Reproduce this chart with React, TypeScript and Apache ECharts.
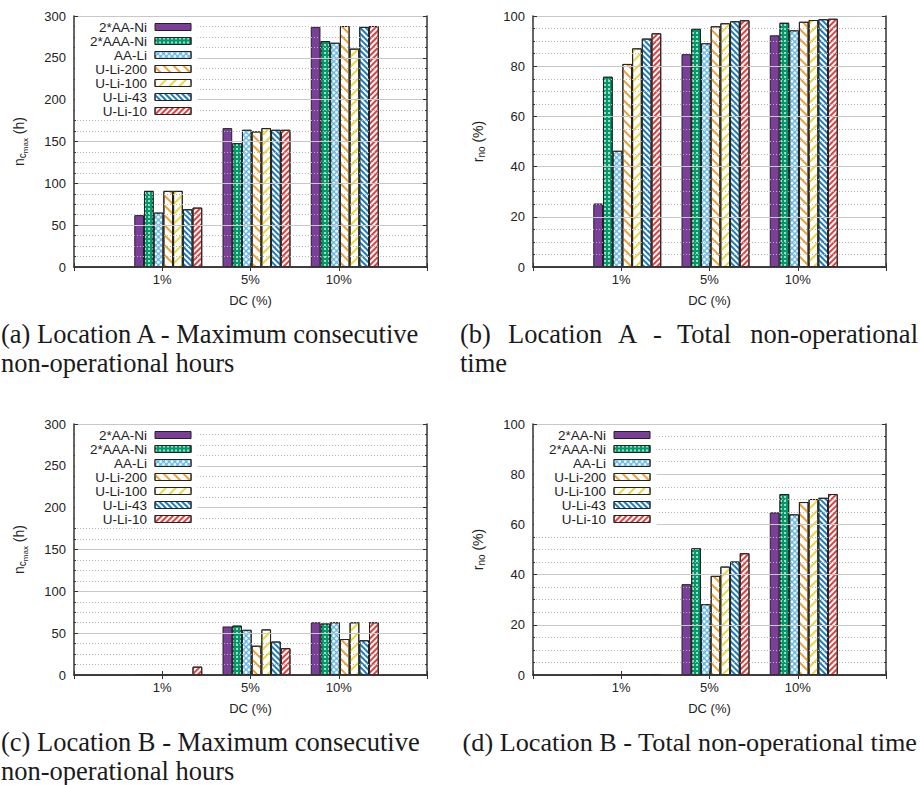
import React, { useEffect, useRef } from 'react';
import * as echarts from 'echarts';

// ---------- data ----------
const categories = ['1%', '5%', '10%'];
const seriesNames = ['2*AA-Ni', '2*AAA-Ni', 'AA-Li', 'U-Li-200', 'U-Li-100', 'U-Li-43', 'U-Li-10'];

// (a) Location A - maximum consecutive non-operational hours (h)
const a_AANi = [62, 166, 287];
const a_AAANi = [91, 148, 270];
const a_AALi = [65, 164, 268];
const a_ULi200 = [91, 162, 288];
const a_ULi100 = [91, 166, 261];
const a_ULi43 = [69, 164, 287];
const a_ULi10 = [71, 164, 288];

// (b) Location A - total non-operational time (%)
const b_AANi = [25.3, 84.8, 92.3];
const b_AAANi = [75.8, 94.9, 97.3];
const b_AALi = [46.3, 89.1, 94.3];
const b_ULi200 = [80.9, 95.9, 97.7];
const b_ULi100 = [87.1, 97.1, 98.4];
const b_ULi43 = [91.0, 97.9, 98.7];
const b_ULi10 = [93.1, 98.3, 98.9];

// (c) Location B - maximum consecutive non-operational hours (h)
const c_AANi = [0, 58, 63];
const c_AAANi = [0, 59, 61.5];
const c_AALi = [0, 54, 63];
const c_ULi200 = [0, 35, 43];
const c_ULi100 = [0, 54.5, 63];
const c_ULi43 = [0, 40, 41.5];
const c_ULi10 = [10, 32, 63];

// (d) Location B - total non-operational time (%)
const d_AANi = [0, 36.2, 64.8];
const d_AAANi = [0, 50.5, 72.1];
const d_AALi = [0, 28.2, 64.0];
const d_ULi200 = [0, 39.5, 68.9];
const d_ULi100 = [0, 43.2, 70.1];
const d_ULi43 = [0, 45.2, 70.6];
const d_ULi10 = [0.4, 48.5, 72.1];

const hoursA = [a_AANi, a_AAANi, a_AALi, a_ULi200, a_ULi100, a_ULi43, a_ULi10];
const ratioA = [b_AANi, b_AAANi, b_AALi, b_ULi200, b_ULi100, b_ULi43, b_ULi10];
const hoursB = [c_AANi, c_AAANi, c_AALi, c_ULi200, c_ULi100, c_ULi43, c_ULi10];
const ratioB = [d_AANi, d_AAANi, d_AALi, d_ULi200, d_ULi100, d_ULi43, d_ULi10];

// ---------- styles ----------
const FONT = '"Liberation Sans", Arial, sans-serif';
const SERIF = '"Liberation Serif", "Times New Roman", serif';
const TEXT = '#222';
const AXIS = '#333';

const seriesStyles: any[] = [
  { color: '#7b3f99' },
  {
    color: '#00996a',
    decal: { symbol: 'circle', symbolSize: 0.8, color: '#ffffff', dashArrayX: [1.6, 1.2], dashArrayY: [1.6, 1.2] },
  },
  {
    color: '#5cb6e8',
    decal: { symbol: 'circle', symbolSize: 1, color: '#ffffff', dashArrayX: [2.6, 1], dashArrayY: [2.6, 1], rotation: Math.PI / 4 },
  },
  {
    color: '#ffffff',
    decal: { symbol: 'rect', symbolSize: 1, color: '#f0a030', dashArrayX: [1, 0], dashArrayY: [1.2, 4.2], rotation: Math.PI / 4 },
  },
  {
    color: '#ffffff',
    decal: { symbol: 'rect', symbolSize: 1, color: '#ecd83a', dashArrayX: [1, 0], dashArrayY: [1.2, 4.2], rotation: -Math.PI / 4 },
  },
  {
    color: '#ffffff',
    decal: { symbol: 'rect', symbolSize: 1, color: '#1a7cc0', dashArrayX: [1, 0], dashArrayY: [1.5, 1.2], rotation: Math.PI / 4 },
  },
  {
    color: '#ffffff',
    decal: { symbol: 'rect', symbolSize: 1, color: '#e83c3c', dashArrayX: [1, 0], dashArrayY: [1.5, 1.2], rotation: -Math.PI / 4 },
  },
];

const nRich = {
  n: { fontSize: 14, lineHeight: 14, verticalAlign: 'top', color: TEXT, fontFamily: FONT },
  c: { fontSize: 10, lineHeight: 10, verticalAlign: 'top', padding: [5, 0, 0, 0], color: TEXT, fontFamily: FONT },
  m: { fontSize: 8, lineHeight: 8, verticalAlign: 'top', padding: [9, 0, 0, 0], color: TEXT, fontFamily: FONT },
};
const hoursName = '{n|n}{c|c}{m|max}{n| (h)}';
const ratioName = '{n|r}{c|no}{n| (%)}';

const W = 353;
const H = 251;
const SHIFT = 6;

const panels = [
  { left: 74, top: 16, max: 300, interval: 50, yName: hoursName, data: hoursA, legend: true },
  { left: 533, top: 16, max: 100, interval: 20, yName: ratioName, data: ratioA, legend: false },
  { left: 74, top: 424, max: 300, interval: 50, yName: hoursName, data: hoursB, legend: true },
  { left: 533, top: 424, max: 100, interval: 20, yName: ratioName, data: ratioB, legend: true },
];

function buildOption() {
  const grid: any[] = [];
  const xAxis: any[] = [];
  const yAxis: any[] = [];
  const series: any[] = [];
  const legend: any[] = [];
  const xData = ['', ...categories, ''];
  const lineStyle = { color: AXIS, width: 1.5 };

  panels.forEach((p) => {
    const gMain = grid.length;
    grid.push({ left: p.left, top: p.top, width: W, height: H, show: false });
    grid.push({ left: p.left + SHIFT, top: p.top, width: W, height: H, show: false });
    const gBar = gMain + 1;

    xAxis.push({
      gridIndex: gMain,
      type: 'category',
      data: xData,
      boundaryGap: false,
      position: 'bottom',
      axisLine: { show: true, lineStyle },
      axisTick: { show: true, inside: true, length: 4, lineStyle: { color: AXIS } },
      axisLabel: { show: true, interval: 0, margin: 6, fontSize: 13, color: TEXT, fontFamily: FONT },
      splitLine: { show: false },
      name: 'DC (%)',
      nameLocation: 'middle',
      nameGap: 27,
      nameTextStyle: { fontSize: 13, color: TEXT, fontFamily: FONT },
      z: 5,
    });
    xAxis.push({
      gridIndex: gMain,
      type: 'category',
      data: xData,
      boundaryGap: false,
      position: 'top',
      axisLine: { show: true, lineStyle },
      axisTick: { show: true, inside: true, length: 4, lineStyle: { color: AXIS } },
      axisLabel: { show: false },
      splitLine: { show: false },
      z: 5,
    });
    const xBar = xAxis.length;
    xAxis.push({ gridIndex: gBar, type: 'category', data: xData, boundaryGap: false, show: false });

    yAxis.push({
      gridIndex: gMain,
      type: 'value',
      min: 0,
      max: p.max,
      interval: p.interval,
      position: 'left',
      axisLine: { show: true, lineStyle },
      axisTick: { show: true, inside: true, length: 4, lineStyle: { color: AXIS } },
      minorTick: { show: true, splitNumber: 4, length: 2, lineStyle: { color: AXIS } },
      axisLabel: { fontSize: 13, margin: 8, color: TEXT, fontFamily: FONT },
      splitLine: { show: true, lineStyle: { color: '#c8c8c8', width: 1.2 } },
      minorSplitLine: { show: true, lineStyle: { color: '#b4b4b4', width: 1, type: [1, 2] } },
      name: p.yName,
      nameLocation: 'middle',
      nameGap: 48,
      nameRotate: 90,
      nameTextStyle: { rich: nRich },
      z: 5,
    });
    yAxis.push({
      gridIndex: gMain,
      type: 'value',
      min: 0,
      max: p.max,
      interval: p.interval,
      position: 'right',
      axisLine: { show: true, lineStyle },
      axisTick: { show: true, inside: true, length: 4, lineStyle: { color: AXIS } },
      minorTick: { show: true, splitNumber: 4, length: 2, lineStyle: { color: AXIS } },
      axisLabel: { show: false },
      splitLine: { show: false },
      z: 5,
    });
    const yBar = yAxis.length;
    yAxis.push({ gridIndex: gBar, type: 'value', min: 0, max: p.max, show: false });

    seriesNames.forEach((name, k) => {
      const st = seriesStyles[k];
      series.push({
        type: 'bar',
        name,
        xAxisIndex: xBar,
        yAxisIndex: yBar,
        data: [null, ...p.data[k], null],
        barGap: '0%',
        barCategoryGap: '23%',
        silent: true,
        itemStyle: { color: st.color, borderColor: '#222', borderWidth: 1, decal: st.decal },
        emphasis: { disabled: true },
      });
    });

    if (p.legend) {
      legend.push({
        left: p.left + 1,
        top: p.top + 1,
        orient: 'vertical',
        align: 'right',
        icon: 'rect',
        itemWidth: 36,
        itemHeight: 7,
        itemGap: 0,
        padding: [3, 6, 2, 15],
        backgroundColor: '#ffffff',
        selectedMode: false,
        data: seriesNames,
        itemStyle: { borderColor: '#222', borderWidth: 1 },
        textStyle: { fontSize: 13.5, lineHeight: 13.5, color: TEXT, fontFamily: FONT, padding: [0, 3, 0, 0] },
        z: 6,
      });
    }
  });

  const capStyle = (text: string, x: number, y: number, align = 'left', size = 26.5) => ({
    type: 'text',
    x,
    y,
    silent: true,
    style: {
      text,
      fontSize: size,
      fontFamily: SERIF,
      fill: '#1a1a1a',
      textAlign: align,
      align,
      textVerticalAlign: 'middle',
      verticalAlign: 'middle',
    },
  });

  const graphic = [
    capStyle('(a) Location A - Maximum consecutive', 1, 334),
    capStyle('non-operational hours', 1, 363),
    capStyle('(b)', 460, 334),
    capStyle('Location', 508, 334),
    capStyle('A', 618, 334),
    capStyle('-', 653, 334),
    capStyle('Total', 677, 334),
    capStyle('non-operational', 918, 334, 'right'),
    capStyle('time', 460, 363),
    capStyle('(c) Location B - Maximum consecutive', 1, 742),
    capStyle('non-operational hours', 1, 771),
    capStyle('(d) Location B - Total non-operational time', 917, 742, 'right', 26.2),
  ];

  return {
    animation: false,
    backgroundColor: '#ffffff',
    textStyle: { fontFamily: FONT },
    grid,
    xAxis,
    yAxis,
    series,
    legend,
    graphic,
  };
}

export default function App() {
  const ref = useRef<HTMLDivElement>(null);
  useEffect(() => {
    if (!ref.current) return;
    const chart = echarts.init(ref.current, undefined, { renderer: 'svg' });
    chart.setOption(buildOption() as any);
    return () => chart.dispose();
  }, []);
  return (
    <div
      ref={ref}
      style={{ position: 'absolute', left: 0, top: 0, width: 920, height: 785, background: '#fff' }}
    />
  );
}
